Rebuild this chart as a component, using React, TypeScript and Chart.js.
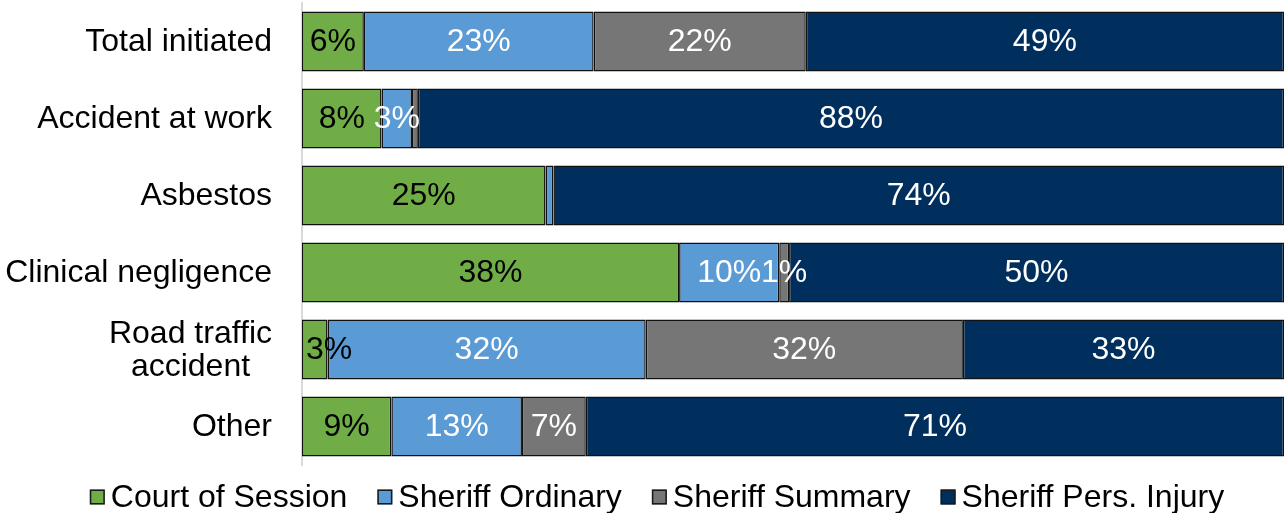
import React, { useEffect, useRef } from "react";
import { Chart, registerables } from "chart.js";

Chart.register(...registerables);

const categories: (string | string[])[] = [
  "Total initiated",
  "Accident at work",
  "Asbestos",
  "Clinical negligence",
  ["Road traffic", "accident"],
  "Other",
];

const seriesNames = ["Court of Session", "Sheriff Ordinary", "Sheriff Summary", "Sheriff Pers. Injury"];

const courtOfSession = [6.3, 8.1, 24.8, 38.4, 2.6, 9.1];
const sheriffOrdinary = [23.4, 3.1, 0.8, 10.2, 32.4, 13.3];
const sheriffSummary = [21.6, 0.6, 0, 1.0, 32.3, 6.5];
const sheriffPersInjury = [48.7, 88.2, 74.4, 50.4, 32.7, 71.1];

const seriesColors = ["#70AD47", "#5B9BD5", "#767676", "#002F5E"];
const labelColors = ["#000000", "#FFFFFF", "#FFFFFF", "#FFFFFF"];

const FONT_FAMILY = '"Liberation Sans", Arial, sans-serif';
const FONT_SIZE = 32;

const barLabelPlugin = {
  id: "barLabels",
  afterDatasetsDraw(chart: any) {
    const ctx = chart.ctx;
    const left = chart.chartArea.left;
    ctx.save();
    ctx.font = `${FONT_SIZE}px ${FONT_FAMILY}`;
    ctx.textAlign = "center";
    ctx.textBaseline = "middle";
    chart.data.datasets.forEach((ds: any, i: number) => {
      const meta = chart.getDatasetMeta(i);
      meta.data.forEach((el: any, j: number) => {
        const v = ds.data[j];
        if (v < 0.95) return;
        const text = `${Math.round(v)}%`;
        const w = ctx.measureText(text).width;
        let x = (el.x + el.base) / 2;
        if (x - w / 2 < left + 4) x = left + 4 + w / 2;
        ctx.fillStyle = labelColors[i];
        ctx.fillText(text, x, el.y + 1);
      });
    });
    ctx.restore();
  },
};

const yLabelPlugin = {
  id: "yLabels",
  afterDraw(chart: any) {
    const ctx = chart.ctx;
    const yScale = chart.scales.y;
    const rightEdge = chart.chartArea.left - 30;
    const lineHeight = 33;
    ctx.save();
    ctx.font = `${FONT_SIZE}px ${FONT_FAMILY}`;
    ctx.fillStyle = "#000000";
    ctx.textAlign = "center";
    ctx.textBaseline = "middle";
    chart.data.labels.forEach((lab: any, i: number) => {
      const lines: string[] = Array.isArray(lab) ? lab : [lab];
      const maxW = Math.max(...lines.map((l) => ctx.measureText(l).width));
      const cx = rightEdge - maxW / 2;
      const cy = yScale.getPixelForValue(i);
      const startY = cy - ((lines.length - 1) * lineHeight) / 2;
      lines.forEach((l, k) => {
        ctx.fillText(l, cx, startY + k * lineHeight + 1);
      });
    });
    ctx.restore();
  },
};

const legendPlugin = {
  id: "customLegend",
  afterDraw(chart: any) {
    const ctx = chart.ctx;
    const box = 15;
    const gap = 6;
    const spacing = 30;
    const cy = 497;
    const centerX = 657;
    ctx.save();
    ctx.font = `${FONT_SIZE}px ${FONT_FAMILY}`;
    ctx.textBaseline = "middle";
    ctx.textAlign = "left";
    const items = chart.data.datasets.map((ds: any) => ({
      label: ds.label,
      color: ds.backgroundColor,
      w: ctx.measureText(ds.label).width,
    }));
    const total =
      items.reduce((s: number, it: any) => s + box + gap + it.w, 0) + spacing * (items.length - 1);
    let x = centerX - total / 2;
    items.forEach((it: any) => {
      ctx.fillStyle = it.color;
      ctx.fillRect(x, cy - box / 2, box, box);
      ctx.strokeStyle = "#1a1a1a";
      ctx.lineWidth = 1.5;
      ctx.strokeRect(x + 0.75, cy - box / 2 + 0.75, box - 1.5, box - 1.5);
      ctx.fillStyle = "#000000";
      ctx.fillText(it.label, x + box + gap, cy + 1);
      x += box + gap + it.w + spacing;
    });
    ctx.restore();
  },
};

export default function App() {
  const canvasRef = useRef<HTMLCanvasElement | null>(null);

  useEffect(() => {
    document.body.style.margin = "0";
    const canvas = canvasRef.current;
    if (!canvas) return;
    const seriesValues = [courtOfSession, sheriffOrdinary, sheriffSummary, sheriffPersInjury];
    const chart = new Chart(canvas, {
      type: "bar",
      data: {
        labels: categories,
        datasets: seriesNames.map((name, i) => ({
          label: name,
          data: seriesValues[i],
          backgroundColor: seriesColors[i],
          borderColor: "#111111",
          borderWidth: 1.5,
          borderSkipped: false,
          barPercentage: 0.78,
          categoryPercentage: 1,
        })),
      },
      options: {
        indexAxis: "y",
        responsive: false,
        animation: false,
        events: [],
        layout: { padding: { left: 294, top: 3, right: 2, bottom: 48 } },
        scales: {
          x: {
            stacked: true,
            min: 0,
            max: 100,
            display: false,
          },
          y: {
            stacked: true,
            ticks: { display: false },
            grid: { display: false },
            border: { display: true, color: "#D9D9D9", width: 2 },
          },
        },
        plugins: {
          legend: { display: false },
          tooltip: { enabled: false },
          title: { display: false },
        },
      },
      plugins: [barLabelPlugin, yLabelPlugin, legendPlugin],
    });
    return () => chart.destroy();
  }, []);

  return (
    <div style={{ width: 1286, height: 513, background: "#ffffff" }}>
      <canvas ref={canvasRef} width={1286} height={513} style={{ display: "block" }} />
    </div>
  );
}
